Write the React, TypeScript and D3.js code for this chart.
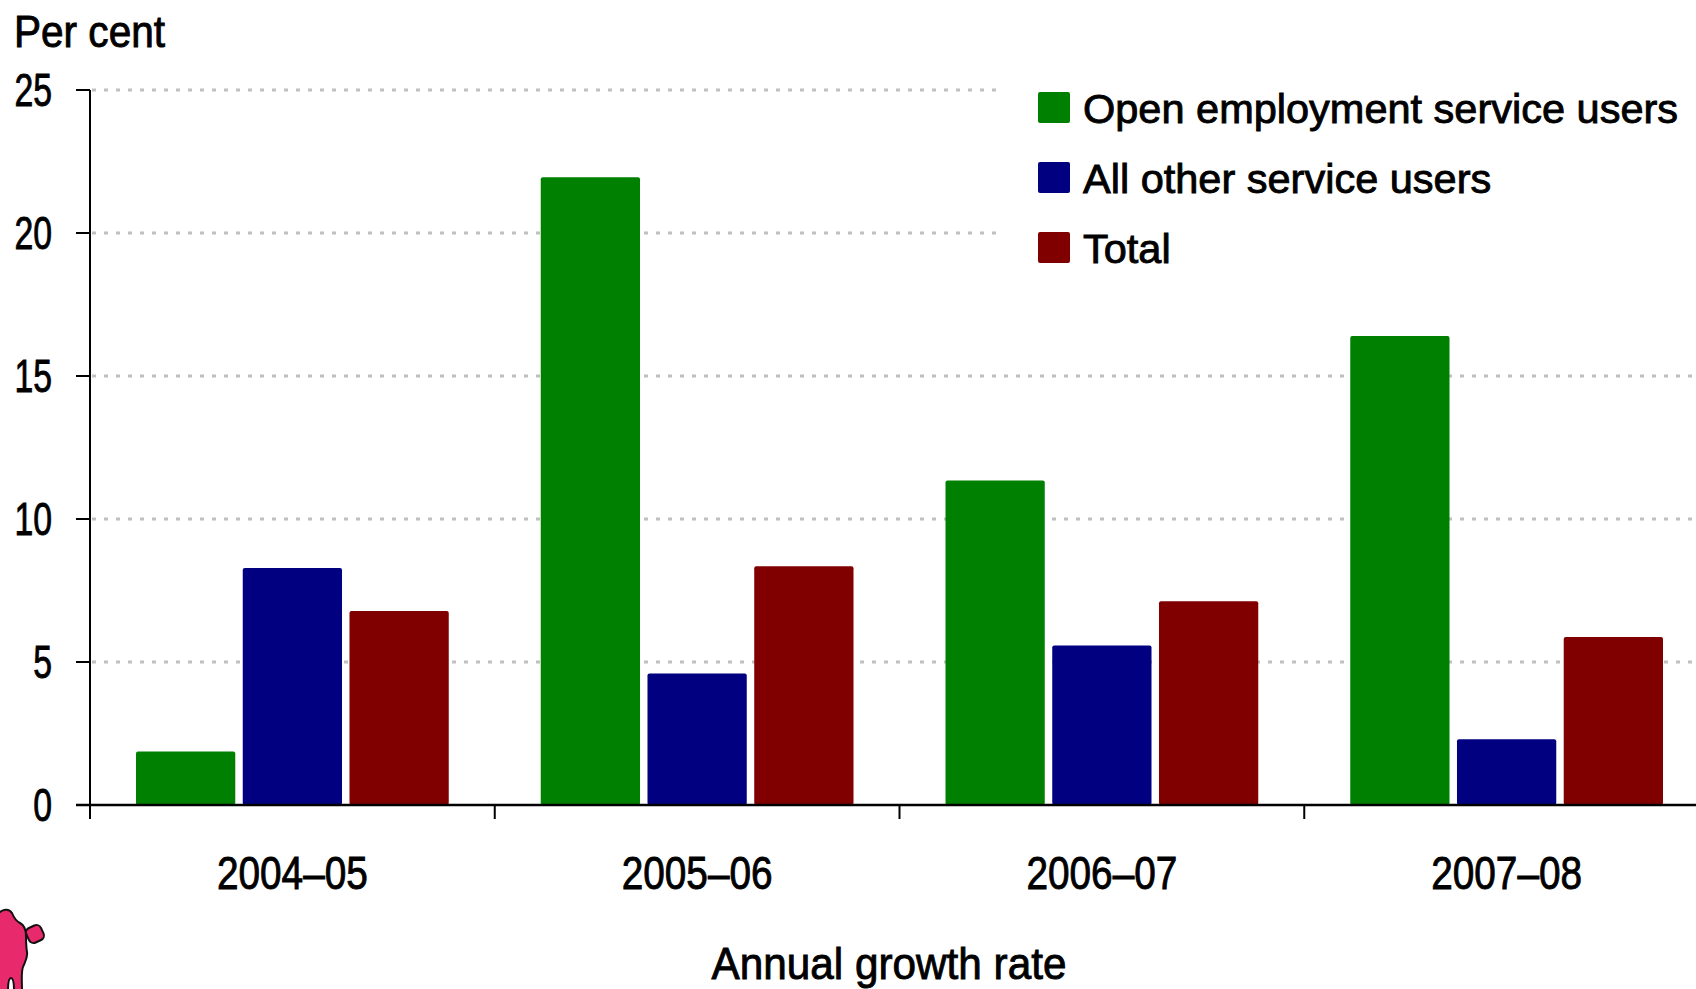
import React, { useEffect } from "react";
import * as d3 from "d3";

const categories = ["2004–05", "2005–06", "2006–07", "2007–08"];
const seriesNames = ["Open employment service users", "All other service users", "Total"];
const openEmployment = [1.87, 21.95, 11.35, 16.4];
const allOther = [8.29, 4.6, 5.58, 2.3];
const total = [6.78, 8.35, 7.12, 5.87];
const seriesColors = ["#008000", "#000080", "#800000"];
const yTicks = [0, 5, 10, 15, 20, 25];
const yAxisTitle = "Per cent";
const xAxisTitle = "Annual growth rate";

const W = 1696;
const H = 989;
const FONT = "'Liberation Sans', Arial, sans-serif";
const NARROW = "'Liberation Sans Narrow', 'Arial Narrow', 'Liberation Sans', Arial, sans-serif";

export default function App() {
  useEffect(() => {
    document.body.style.margin = "0";
  }, []);

  const seriesValues = [openEmployment, allOther, total];
  const x = d3.scaleBand<string>().domain(categories).range([90, 1709]).padding(0);
  const inner = d3
    .scaleBand<string>()
    .domain(seriesNames)
    .range([46, x.bandwidth() - 46])
    .paddingInner(0.07);
  const y = d3.scaleLinear().domain([0, 25]).range([805, 90]);

  const bars: any[] = [];
  categories.forEach((c, ci) => {
    seriesNames.forEach((s, si) => {
      const v = seriesValues[si][ci];
      bars.push({
        key: c + s,
        x: (x(c) as number) + (inner(s) as number),
        y: y(v),
        w: inner.bandwidth(),
        h: y(0) - y(v),
        fill: seriesColors[si],
      });
    });
  });

  const textStroke = { stroke: "#000", strokeWidth: 0.9 };

  return (
    <svg width={W} height={H} style={{ display: "block", background: "#fff" }} fontFamily={FONT}>
      {/* grid lines */}
      {yTicks.filter((t) => t > 0).map((t) => (
        <line
          key={"g" + t}
          x1={92}
          x2={W}
          y1={y(t)}
          y2={y(t)}
          stroke="#c0c0c0"
          strokeWidth={3}
          strokeDasharray="4 8"
        />
      ))}
      {/* legend background */}
      <rect x={1003} y={60} width={700} height={225} fill="#fff" />
      {/* bars */}
      {bars.map((b) => (
        <rect key={b.key} x={b.x} y={b.y} width={b.w} height={b.h} fill={b.fill} rx={2} ry={2} />
      ))}
      {/* y axis */}
      <line x1={90} x2={90} y1={y(25)} y2={819} stroke="#000" strokeWidth={2} />
      {yTicks.map((t) => (
        <g key={"yt" + t}>
          <line x1={76} x2={90} y1={y(t)} y2={y(t)} stroke="#000" strokeWidth={2} />
          <text
            x={52}
            y={y(t) + 16}
            fontSize={47}
            fontFamily={NARROW}
            textAnchor="end"
            textLength={String(t).length * 18.8}
            lengthAdjust="spacingAndGlyphs"
            fill="#000"
            {...textStroke}
          >
            {t}
          </text>
        </g>
      ))}
      {/* x axis */}
      <line x1={76} x2={W} y1={y(0)} y2={y(0)} stroke="#000" strokeWidth={2.5} />
      {categories.map((c) => (
        <g key={"xt" + c}>
          <line x1={x(c)} x2={x(c)} y1={y(0)} y2={819} stroke="#000" strokeWidth={2} />
          <text
            x={(x(c) as number) + x.bandwidth() / 2}
            y={889}
            fontSize={46}
            fontFamily={NARROW}
            textAnchor="middle"
            textLength={151}
            lengthAdjust="spacingAndGlyphs"
            fill="#000"
            {...textStroke}
          >
            {c}
          </text>
        </g>
      ))}
      {/* titles */}
      <text
        x={14}
        y={47}
        fontSize={44}
        textLength={151}
        lengthAdjust="spacingAndGlyphs"
        fill="#000"
        {...textStroke}
      >
        {yAxisTitle}
      </text>
      <text
        x={889}
        y={979}
        fontSize={45}
        textAnchor="middle"
        textLength={355}
        lengthAdjust="spacingAndGlyphs"
        fill="#000"
        {...textStroke}
      >
        {xAxisTitle}
      </text>
      {/* legend */}
      {seriesNames.map((s, i) => (
        <g key={"lg" + s}>
          <rect x={1038} y={92 + i * 70} width={32} height={31} fill={seriesColors[i]} rx={2} ry={2} />
          <text x={1083} y={123 + i * 70} fontSize={41.5} fill="#000" {...textStroke}>
            {s}
          </text>
        </g>
      ))}
      {/* logo fragment */}
      <g stroke="#111" strokeWidth={2} fill="#e8296b">
        <path d="M -2,914 C 2,909 9,908 12,913 C 14,918 16,921 20,923 C 24,925 26,930 26,936 C 26,942 26,946 27,952 C 28,958 25,962 23,967 C 21,972 22,980 22,991 L 14,991 C 14,984 13,978 11,978 C 9,978 8,984 8,991 L -2,991 Z" />
        <rect x={27} y={926} width={16} height={16} rx={5} ry={5} transform="rotate(-25 35 934)" />
      </g>
    </svg>
  );
}
